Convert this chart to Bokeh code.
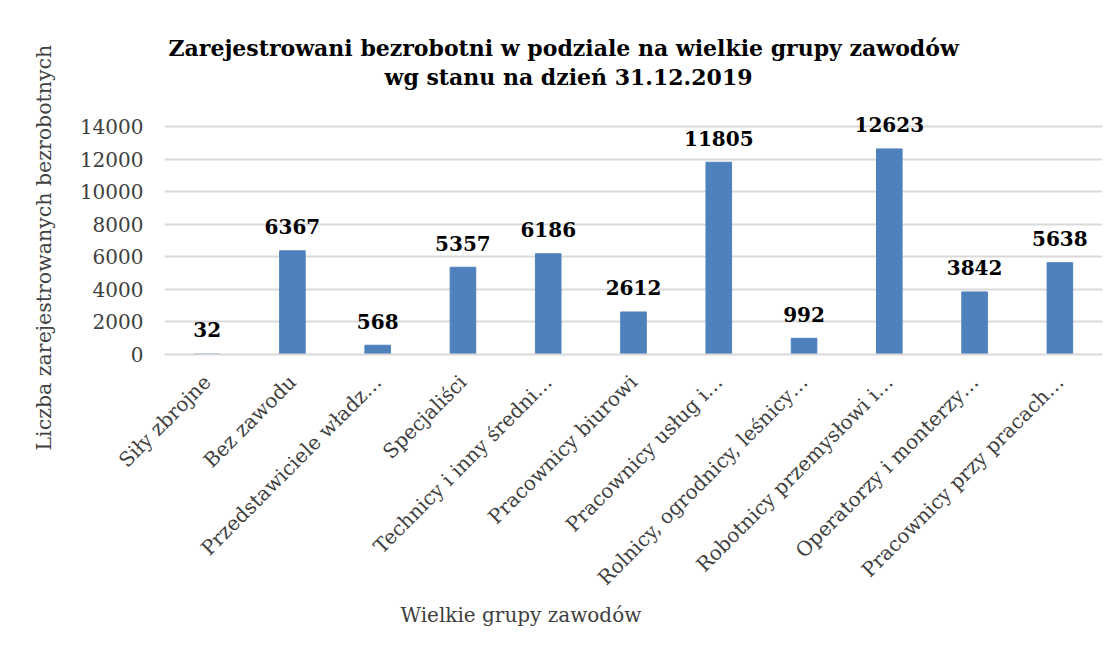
import math
from bokeh.plotting import figure
from bokeh.models import Range1d, FixedTicker, Title, ColumnDataSource
from bokeh.core.properties import value
from bokeh.embed import file_html
from bokeh.resources import INLINE

categories = [
    "Siły zbrojne",
    "Bez zawodu",
    "Przedstawiciele władz…",
    "Specjaliści",
    "Technicy i inny średni…",
    "Pracownicy biurowi",
    "Pracownicy usług i…",
    "Rolnicy, ogrodnicy, leśnicy…",
    "Robotnicy przemysłowi i…",
    "Operatorzy i monterzy…",
    "Pracownicy przy pracach…",
]
counts = [32, 6367, 568, 5357, 6186, 2612, 11805, 992, 12623, 3842, 5638]
y_ticks = [0, 2000, 4000, 6000, 8000, 10000, 12000, 14000]

title_line1 = "Zarejestrowani bezrobotni w podziale na wielkie grupy zawodów"
title_line2 = "wg stanu na dzień 31.12.2019"
y_title = "Liczba zarejestrowanych bezrobotnych"
x_title = "Wielkie grupy zawodów"

FONT = "DejaVu Serif"
BAR = "#4F81BD"
GRID = "#d9d9d9"
TXT = "#404040"

src = ColumnDataSource(dict(cat=categories, val=counts, lab=[str(v) for v in counts]))

# headroom above the last gridline keeps the value labels inside the frame
p = figure(
    x_range=categories,
    y_range=Range1d(0, 16210),
    width=1110, height=640,
    output_backend="svg", toolbar_location=None,
    title=None,
    min_border_left=164, min_border_right=8,
    min_border_top=90, min_border_bottom=286,
)

p.vbar(x="cat", top="val", width=0.30, color=BAR, source=src)
p.text(x="cat", y="val", text="lab", source=src, text_align="center",
       text_baseline="alphabetic", y_offset=-24,
       text_font=value(FONT), text_font_size="20px", text_font_style="bold",
       text_color="#000000")

p.add_layout(Title(text=title_line2, align="left", offset=220, text_font=FONT,
                   text_font_size="22px", text_font_style="bold", text_color="#000000",
                   standoff=2), "above")
p.add_layout(Title(text=title_line1, align="left", offset=4, text_font=FONT,
                   text_font_size="22px", text_font_style="bold", text_color="#000000",
                   standoff=0), "above")
p.add_layout(Title(text=x_title, align="left", offset=236, vertical_align="top",
                   text_font=FONT, text_font_size="20px", text_font_style="normal",
                   text_color=TXT, standoff=2), "below")
p.add_layout(Title(text=y_title, align="left", offset=-96, vertical_align="bottom",
                   text_font=FONT, text_font_size="20.5px", text_font_style="normal",
                   text_color=TXT, standoff=42), "left")

p.outline_line_color = None
p.xgrid.grid_line_color = None
p.ygrid.grid_line_color = GRID
p.ygrid.grid_line_width = 2

p.yaxis.ticker = FixedTicker(ticks=y_ticks)
p.yaxis.axis_line_color = None
p.yaxis.major_tick_line_color = None
p.yaxis.minor_tick_line_color = None
p.yaxis.major_label_text_font = FONT
p.yaxis.major_label_text_font_size = "20px"
p.yaxis.major_label_text_color = TXT
p.yaxis.major_label_standoff = 15

p.xaxis.axis_line_color = GRID
p.xaxis.axis_line_width = 2
p.xaxis.major_tick_line_color = None
p.xaxis.minor_tick_line_color = None
p.xaxis.major_label_orientation = math.pi / 4
p.xaxis.major_label_text_font = FONT
p.xaxis.major_label_text_font_size = "20px"
p.xaxis.major_label_text_color = TXT
p.xaxis.major_label_standoff = 18

open("out.html", "w").write(file_html(p, INLINE))
